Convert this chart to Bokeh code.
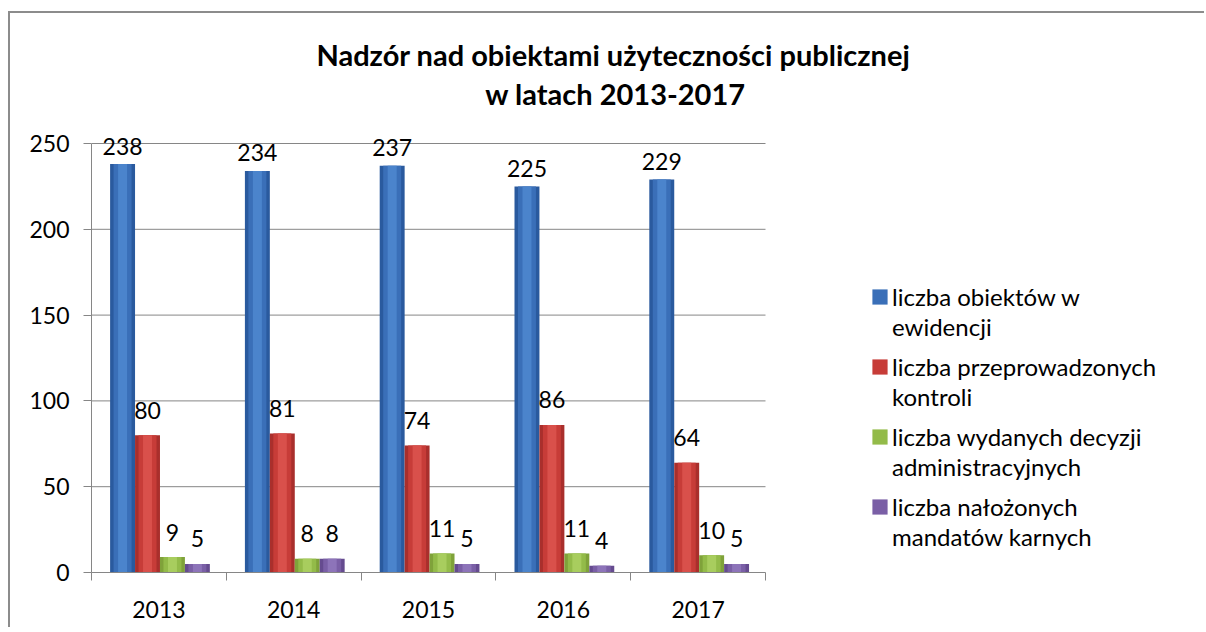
import numpy as np
from bokeh.plotting import figure
from bokeh.models import (Range1d, FixedTicker, Legend, LegendItem, Label,
                          ColumnDataSource)
from bokeh.core.properties import value
from bokeh.embed import file_html
from bokeh.resources import INLINE

# ---- data ----
years = ["2013", "2014", "2015", "2016", "2017"]
obiekty = [238, 234, 237, 225, 229]
kontrole = [80, 81, 74, 86, 64]
decyzje = [9, 8, 11, 11, 10]
mandaty = [5, 8, 5, 4, 5]
series_label_line1 = ["liczba obiektów w", "liczba przeprowadzonych",
                      "liczba wydanych decyzji", "liczba nałożonych"]
series_label_line2 = ["ewidencji", "kontroli", "administracyjnych",
                      "mandatów karnych"]
y_ticks = [0, 50, 100, 150, 200, 250]
title_lines = ["Nadzór  nad obiektami użyteczności  publicznej", "w latach 2013-2017"]

# ---- style / layout ----
FONT = "Lato"
W, H = 1196, 616
LEFT, BOTTOM = 81, 57
PLOT_W, PLOT_H = 674, 429          # pixel size of the chart area (0..250, 5 groups)
frame_w, frame_h = W - LEFT, H - BOTTOM
n = len(years)
x_end = -0.5 + n * frame_w / PLOT_W
y_end = y_ticks[-1] * frame_h / PLOT_H

colors = [  # edge, mid, light
    ("#2a5a9e", "#3a6fb8", "#4b84cc"),
    ("#a92f2c", "#c73c38", "#d9504b"),
    ("#7fa23a", "#93bb49", "#a8cd5e"),
    ("#654b8f", "#7a5fa6", "#8d74b9"),
]
label_gap = [18, 25, 25, 25]
bw = 0.185
GRID = "#868686"

p = figure(width=W, height=H, output_backend="svg", toolbar_location=None,
           x_range=Range1d(-0.5, x_end), y_range=Range1d(0, y_end),
           min_border_left=LEFT, min_border_right=0, min_border_top=0,
           min_border_bottom=BOTTOM, background_fill_color="white",
           border_fill_color="white")
p.outline_line_color = None
p.styles = {"margin-left": "8px", "margin-top": "11px",
            "border-left": "2px solid #8c8c8c", "border-top": "2px solid #8c8c8c"}

# axes
xa = p.xaxis[0]
xa.bounds = (-0.5, n - 0.5)
xa.ticker = FixedTicker(ticks=list(range(n)),
                        minor_ticks=[i - 0.5 for i in range(n + 1)])
xa.major_label_overrides = {i: y for i, y in enumerate(years)}
xa.major_tick_out = 0
xa.major_tick_in = 0
xa.minor_tick_out = 8
xa.minor_tick_in = 0
xa.minor_tick_line_color = GRID
xa.axis_line_color = GRID
xa.major_label_text_font = FONT
xa.major_label_text_font_size = "23px"
xa.major_label_text_color = "black"
xa.major_label_standoff = 20

ya = p.yaxis[0]
ya.ticker = FixedTicker(ticks=y_ticks)
ya.bounds = (y_ticks[0], y_ticks[-1])
ya.major_tick_out = 8
ya.major_tick_in = 0
ya.minor_tick_out = 0
ya.minor_tick_in = 0
ya.major_tick_line_color = GRID
ya.axis_line_color = GRID
ya.major_label_text_font = FONT
ya.major_label_text_font_size = "23px"
ya.major_label_text_color = "black"
ya.major_label_standoff = 14

p.xgrid.visible = False
p.ygrid.visible = False
gy = y_ticks[1:]
p.segment(x0=[-0.5] * len(gy), x1=[n - 0.5] * len(gy), y0=gy, y1=gy,
          line_color=GRID, line_width=1)

series = [obiekty, kontrole, decyzje, mandaty]
xs = np.arange(n) + 0.008
offsets = [-1.5 * bw, -0.5 * bw, 0.5 * bw, 1.5 * bw]

items1, items2 = [], []
for k, vals in enumerate(series):
    src = ColumnDataSource(dict(x=xs + offsets[k], top=vals,
                                txt=[str(v) for v in vals]))
    edge, mid, light = colors[k]
    p.vbar(x="x", top="top", bottom=0, width=bw, source=src,
           fill_color=edge, line_color=None)
    p.vbar(x="x", top="top", bottom=0, width=bw * 0.72, source=src,
           fill_color=mid, line_color=None)
    p.vbar(x="x", top="top", bottom=0, width=bw * 0.36, source=src,
           fill_color=light, line_color=None)
    p.text(x="x", y="top", text="txt", source=src, text_align="center",
           text_baseline="middle", y_offset=-label_gap[k],
           text_font=value(FONT), text_font_size="23px", text_color="black")
    # legend keys: zero-size bars, so that they draw nothing in the chart
    key = p.vbar(x="x", top=0, bottom=0, width=0, source=src,
                 fill_color=mid, line_color=None)
    blank = p.vbar(x="x", top=0, bottom=0, width=0, source=src,
                   fill_alpha=0, line_alpha=0)
    items1.append(LegendItem(label=series_label_line1[k], renderers=[key]))
    items2.append(LegendItem(label=series_label_line2[k], renderers=[blank]))

legend_kw = dict(orientation="vertical", border_line_color=None,
                 background_fill_alpha=0, label_text_font=FONT,
                 label_text_font_size="24px", label_text_color="black",
                 glyph_width=19, glyph_height=19, label_height=30,
                 label_standoff=3, spacing=40, padding=0, margin=0)
p.add_layout(Legend(items=items1, location=(779, 51), **legend_kw), "center")
p.add_layout(Legend(items=items2, location=(779, 21), **legend_kw), "center")

# title (screen units relative to the chart frame)
p.add_layout(Label(x=529, y=518, x_units="screen", y_units="screen",
                   text=title_lines[0], text_align="center", text_baseline="middle",
                   text_font=FONT, text_font_style="bold", text_font_size="29px",
                   text_color="black"))
p.add_layout(Label(x=524, y=479, x_units="screen", y_units="screen",
                   text=title_lines[1], text_align="center", text_baseline="middle",
                   text_font=FONT, text_font_style="bold", text_font_size="29px",
                   text_color="black"))

open("out.html", "w").write(file_html(p, INLINE))
